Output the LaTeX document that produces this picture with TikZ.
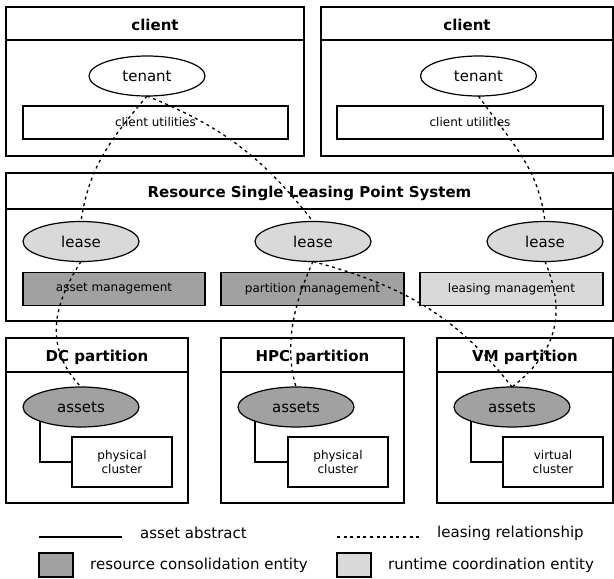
\documentclass[tikz,border=0pt]{standalone}
\usepackage{fontspec}
\setmainfont{DejaVu Sans}
\usetikzlibrary{shapes.geometric}

\definecolor{consolfill}{gray}{0.63}
\definecolor{coordfill}{gray}{0.85}

\tikzset{
  frame/.style={draw, line width=1.3pt, inner sep=0pt, outer sep=0pt},
  headbox/.style={frame, font=\bfseries\fontsize{15}{17}\selectfont,
    text height=13pt, text depth=0pt},
  bodybox/.style={frame},
  ent/.style={ellipse, draw, line width=1.2pt, minimum width=116pt,
    minimum height=40pt, inner sep=0pt, outer sep=0pt,
    font=\fontsize{15}{17}\selectfont},
  unit/.style={draw, line width=1.2pt, inner sep=0pt, outer sep=0pt,
    font=\fontsize{12}{14}\selectfont, align=center},
  leaselink/.style={line width=1.3pt, dash pattern=on 3pt off 3.6pt},
  abstractlink/.style={line width=1.2pt},
  legendtext/.style={anchor=west, inner sep=0pt, font=\fontsize{15}{17}\selectfont},
}

\begin{document}
\begin{tikzpicture}[x=1pt, y=-1pt]
\useasboundingbox (0,0) rectangle (614,579);

% ---- clients ----
\node[headbox, minimum width=298pt, minimum height=33pt] (c1h) at (155,23.5) {client};
\node[bodybox, minimum width=298pt, minimum height=116pt] (c1b) at (155,98) {};
\node[ent] (t1) at (147,76) {tenant};
\node[unit, minimum width=265pt, minimum height=33pt] (u1) at (155.5,122.5) {client utilities};

\node[headbox, minimum width=292pt, minimum height=33pt] (c2h) at (467,23.5) {client};
\node[bodybox, minimum width=292pt, minimum height=116pt] (c2b) at (467,98) {};
\node[ent] (t2) at (478.5,76) {tenant};
\node[unit, minimum width=266pt, minimum height=33pt] (u2) at (470,122.5) {client utilities};

% ---- leasing point system ----
\node[headbox, minimum width=607pt, minimum height=36pt] (rh) at (309.5,191) {Resource Single Leasing Point System};
\node[bodybox, minimum width=607pt, minimum height=112pt] (rb) at (309.5,265) {};
\node[ent, fill=coordfill] (l1) at (81,241.5) {lease};
\node[ent, fill=coordfill] (l2) at (313,241.5) {lease};
\node[ent, fill=coordfill] (l3) at (545,241.5) {lease};
\node[unit, fill=consolfill, minimum width=182pt, minimum height=33pt] (m1) at (114,289) {asset management};
\node[unit, fill=consolfill, minimum width=183pt, minimum height=33pt] (m2) at (312.5,289) {partition management};
\node[unit, fill=coordfill, minimum width=183pt, minimum height=33pt] (m3) at (511.5,289) {leasing management};

% ---- partitions ----
\node[headbox, minimum width=182pt, minimum height=34pt] (p1h) at (97,355) {DC partition};
\node[bodybox, minimum width=182pt, minimum height=131pt] (p1b) at (97,437.5) {};
\node[headbox, minimum width=183pt, minimum height=34pt] (p2h) at (312.5,355) {HPC partition};
\node[bodybox, minimum width=183pt, minimum height=131pt] (p2b) at (312.5,437.5) {};
\node[headbox, minimum width=176pt, minimum height=34pt] (p3h) at (525,355) {VM partition};
\node[bodybox, minimum width=176pt, minimum height=131pt] (p3b) at (525,437.5) {};

\node[ent, fill=consolfill] (a1) at (81,407) {assets};
\node[ent, fill=consolfill] (a2) at (296,407) {assets};
\node[ent, fill=consolfill] (a3) at (512,407) {assets};
\node[unit, minimum width=100pt, minimum height=50pt] (k1) at (122,462) {physical\\cluster};
\node[unit, minimum width=100pt, minimum height=50pt] (k2) at (338,462) {physical\\cluster};
\node[unit, minimum width=100pt, minimum height=50pt] (k3) at (553,462) {virtual\\cluster};

% asset abstraction
\draw[abstractlink] (a1.south west) |- (k1.west);
\draw[abstractlink] (a2.south west) |- (k2.west);
\draw[abstractlink] (a3.south west) |- (k3.west);

% leasing relationships
\draw[leaselink] (t1.south) to[out=-130, in=82] (l1.north);
\draw[leaselink] (t1.south) to[out=-22, in=128] (l2.north);
\draw[leaselink] (t2.south) to[out=-55, in=97] (l3.north);
\draw[leaselink] (l1.south) .. controls +(-31,48) and +(-35,-37) .. (a1.north);
\draw[leaselink] (l2.south) .. controls +(-22,48) and +(-11,-37) .. (a2.north);
\draw[leaselink] (l2.south) to[out=-15, in=128] (a3.north);
\draw[leaselink] (l3.south) .. controls +(20,48) and +(48,-37) .. (a3.north);

% ---- legend ----
\coordinate (la) at (39,537);
\coordinate (lb) at (122,537);
\coordinate (lc) at (337,537);
\coordinate (ld) at (422,537);
\draw[abstractlink] (la) -- (lb);
\node[legendtext] (lt1) at (140,533) {asset abstract};
\draw[leaselink] (lc) -- (ld);
\node[legendtext] (lt2) at (437,533) {leasing relationship};
\node[unit, fill=consolfill, minimum width=34pt, minimum height=24pt] (sq1) at (56,565) {};
\node[legendtext] (lt3) at (90,565) {resource consolidation entity};
\node[unit, fill=coordfill, minimum width=34pt, minimum height=24pt] (sq2) at (354,565) {};
\node[legendtext] (lt4) at (388,565) {runtime coordination entity};
\end{tikzpicture}
\end{document}
